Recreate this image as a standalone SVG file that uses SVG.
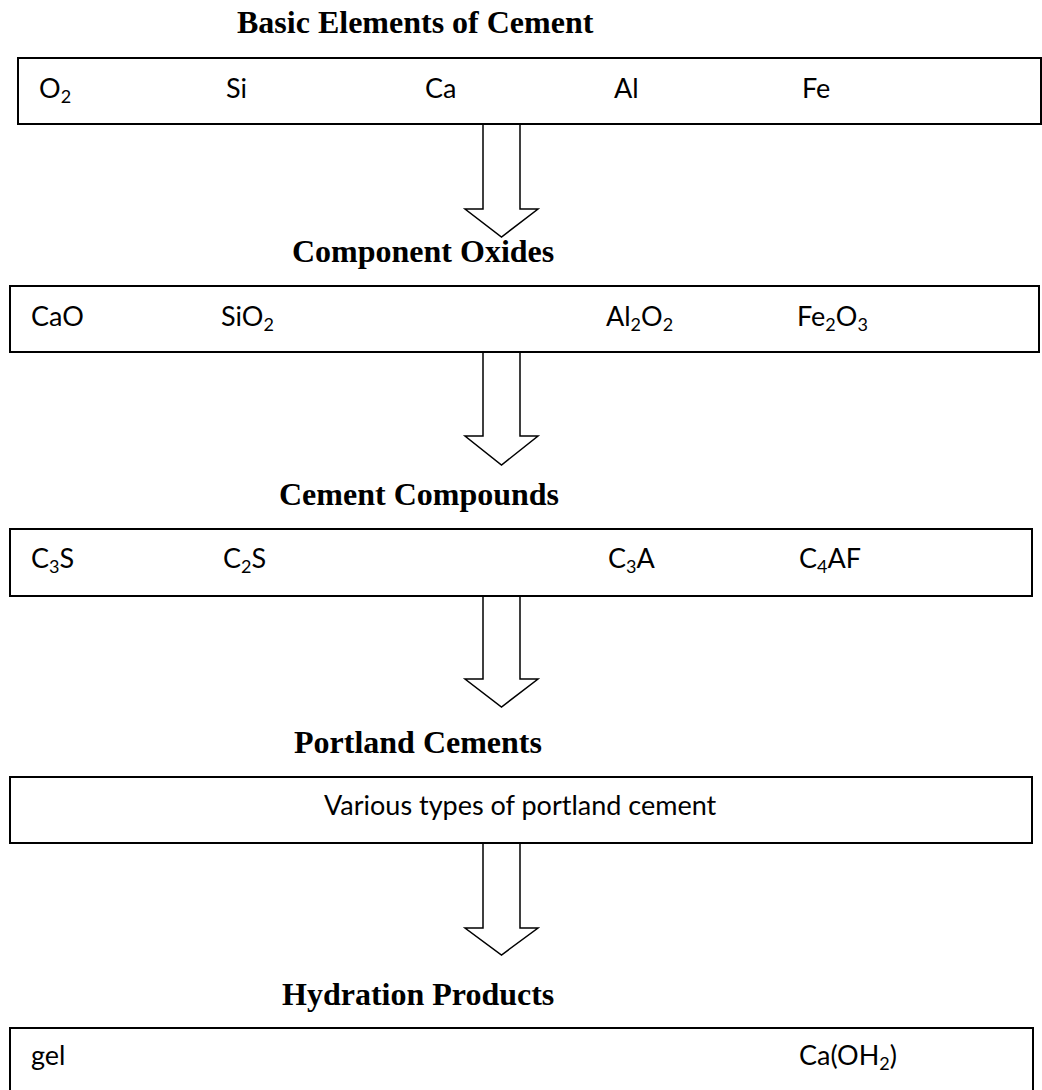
<svg xmlns="http://www.w3.org/2000/svg" width="1042" height="1090" viewBox="0 0 1042 1090">
<style>
.title{font-family:"Liberation Serif","Times New Roman",serif;font-weight:bold;font-size:32px;fill:#000}
.lbl{font-family:Lato,"Liberation Sans",sans-serif;font-size:27px;fill:#000}
.sub{font-size:18px}
.box{fill:#fff;stroke:#000;stroke-width:2}
.arr{fill:#fff;stroke:#000;stroke-width:1.5;stroke-linejoin:miter}
</style>
<rect width="1042" height="1090" fill="#fff"/>
<g id="connectors">
<polygon class="arr" points="483,124 483,209 465,209 501.5,237 538,209 520,209 520,124"/>
<polygon class="arr" points="483,352 483,436 465,436 501.5,465 538,436 520,436 520,352"/>
<polygon class="arr" points="483,596 483,679 465,679 501.5,707 538,679 520,679 520,596"/>
<polygon class="arr" points="483,843 483,928 465,928 501.5,955 538,928 520,928 520,843"/>
</g>
<g id="basic-elements">
<text class="title" x="237" y="33">Basic Elements of Cement</text>
<rect class="box" x="18" y="58" width="1023" height="66"/>
<text class="lbl" x="39" y="98">O<tspan class="sub" dy="5">2</tspan></text>
<text class="lbl" x="226" y="98">Si</text>
<text class="lbl" x="425" y="98">Ca</text>
<text class="lbl" x="614" y="98">Al</text>
<text class="lbl" x="802" y="98">Fe</text>
</g>
<g id="component-oxides">
<text class="title" x="292" y="262">Component Oxides</text>
<rect class="box" x="10" y="286" width="1029" height="66"/>
<text class="lbl" x="31" y="326">CaO</text>
<text class="lbl" x="221" y="326">SiO<tspan class="sub" dy="5">2</tspan></text>
<text class="lbl" x="606" y="326">Al<tspan class="sub" dy="5">2</tspan><tspan dy="-5">O</tspan><tspan class="sub" dy="5">2</tspan></text>
<text class="lbl" x="797" y="326">Fe<tspan class="sub" dy="5">2</tspan><tspan dy="-5">O</tspan><tspan class="sub" dy="5">3</tspan></text>
</g>
<g id="cement-compounds">
<text class="title" x="279" y="505">Cement Compounds</text>
<rect class="box" x="10" y="529" width="1022" height="67"/>
<text class="lbl" x="31" y="568">C<tspan class="sub" dy="5">3</tspan><tspan dy="-5">S</tspan></text>
<text class="lbl" x="223" y="568">C<tspan class="sub" dy="5">2</tspan><tspan dy="-5">S</tspan></text>
<text class="lbl" x="608" y="568">C<tspan class="sub" dy="5">3</tspan><tspan dy="-5">A</tspan></text>
<text class="lbl" x="799" y="568">C<tspan class="sub" dy="5">4</tspan><tspan dy="-5">AF</tspan></text>
</g>
<g id="portland-cements">
<text class="title" x="294" y="753">Portland Cements</text>
<rect class="box" x="10" y="777" width="1022" height="66"/>
<text class="lbl" x="324" y="815">Various types of portland cement</text>
</g>
<g id="hydration-products">
<text class="title" x="282" y="1005">Hydration Products</text>
<rect class="box" x="10" y="1028" width="1023" height="80"/>
<text class="lbl" x="31" y="1065">gel</text>
<text class="lbl" x="799" y="1065">Ca(OH<tspan class="sub" dy="5">2</tspan><tspan dy="-5">)</tspan></text>
</g>
</svg>
